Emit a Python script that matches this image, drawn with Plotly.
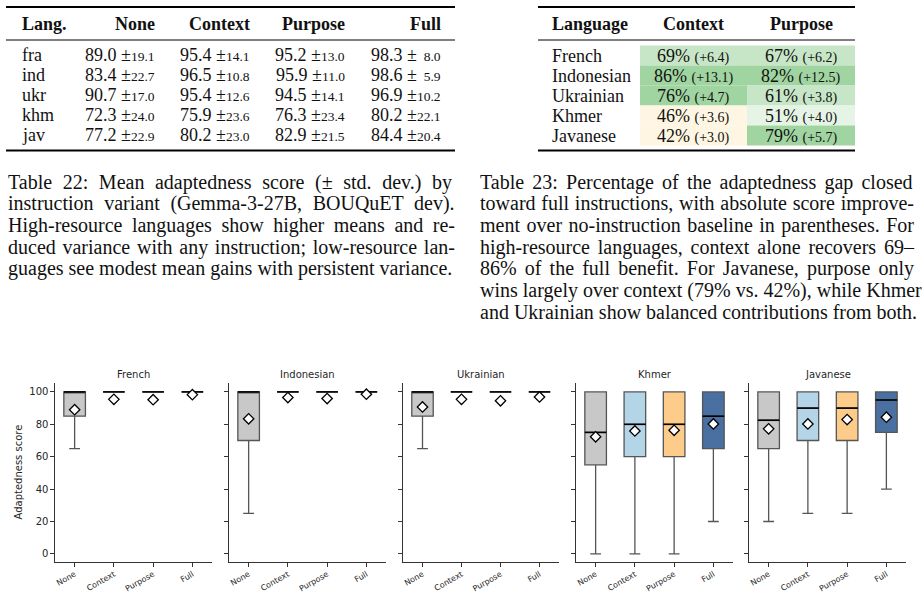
import plotly.graph_objects as go

W, H = 924, 595

# ---------------- data ----------------
variants = ["None", "Context", "Purpose", "Full"]

langs22 = ["fra", "ind", "ukr", "khm", "jav"]
mean_none = [89.0, 83.4, 90.7, 72.3, 77.2]
sd_none = [19.1, 22.7, 17.0, 24.0, 22.9]
mean_context = [95.4, 96.5, 95.4, 75.9, 80.2]
sd_context = [14.1, 10.8, 12.6, 23.6, 23.0]
mean_purpose = [95.2, 95.9, 94.5, 76.3, 82.9]
sd_purpose = [13.0, 11.0, 14.1, 23.4, 21.5]
mean_full = [98.3, 98.6, 96.9, 80.2, 84.4]
sd_full = [8.0, 5.9, 10.2, 22.1, 20.4]

langs23 = ["French", "Indonesian", "Ukrainian", "Khmer", "Javanese"]
gap_context = [69, 86, 76, 46, 42]
gain_context = [6.4, 13.1, 4.7, 3.6, 3.0]
gap_purpose = [67, 82, 61, 51, 79]
gain_purpose = [6.2, 12.5, 3.8, 4.0, 5.7]

# box statistics per language: entries = None, Context, Purpose, Full
box_q1 = {
    "French": [85, 100, 100, 100], "Indonesian": [70, 100, 100, 100],
    "Ukrainian": [85, 100, 100, 100], "Khmer": [55, 60, 60, 65],
    "Javanese": [65, 70, 70, 75],
}
box_median = {
    "French": [100, 100, 100, 100], "Indonesian": [100, 100, 100, 100],
    "Ukrainian": [100, 100, 100, 100], "Khmer": [75, 80, 80, 85],
    "Javanese": [82.5, 90, 90, 95],
}
box_q3 = {
    "French": [100, 100, 100, 100], "Indonesian": [100, 100, 100, 100],
    "Ukrainian": [100, 100, 100, 100], "Khmer": [100, 100, 100, 100],
    "Javanese": [100, 100, 100, 100],
}
box_low = {
    "French": [65, 100, 100, 100], "Indonesian": [25, 100, 100, 100],
    "Ukrainian": [65, 100, 100, 100], "Khmer": [0, 0, 0, 20],
    "Javanese": [20, 25, 25, 40],
}
box_high = {
    "French": [100, 100, 100, 100], "Indonesian": [100, 100, 100, 100],
    "Ukrainian": [100, 100, 100, 100], "Khmer": [100, 100, 100, 100],
    "Javanese": [100, 100, 100, 100],
}

caption22 = [
    "Table 22: Mean adaptedness score (\u00b1 std. dev.)  by",
    "instruction variant (Gemma-3-27B, BOUQuET dev).",
    "High-resource languages show higher means and re-",
    "duced variance with any instruction; low-resource lan-",
    "guages see modest mean gains with persistent variance.",
]
caption23 = [
    "Table 23: Percentage of the adaptedness gap closed",
    "toward full instructions, with absolute score improve-",
    "ment over no-instruction baseline in parentheses. For",
    "high-resource languages, context alone recovers 69\u2013",
    "86% of the full benefit.  For Javanese, purpose only",
    "wins largely over context (79% vs. 42%), while Khmer",
    "and Ukrainian show balanced contributions from both.",
]

# ---------------- styling helpers ----------------
SERIF = "Liberation Serif"
SANS = "DejaVu Sans"
box_fill = {"None": "#c8c8c8", "Context": "#b4d4e7", "Purpose": "#fdcc8a", "Full": "#4a6fa1"}

# Times glyph advance widths (per 1000 em) used to justify caption lines
_TW = {" ": 250, "(": 333, ")": 333, ",": 250, "-": 333, ".": 250, ":": 278, ";": 278,
       "%": 833, "\u00b1": 564, "\u2013": 500}
_TW.update({d: 500 for d in "0123456789"})
_TW.update(dict(zip("ABCDEFGHIJKLMNOPQRSTUVWXYZ",
                    [722, 667, 667, 722, 611, 556, 722, 722, 333, 389, 722, 611, 889,
                     722, 722, 556, 722, 667, 556, 611, 722, 722, 944, 722, 722, 611])))
_TW.update(dict(zip("abcdefghijklmnopqrstuvwxyz",
                    [444, 500, 444, 500, 444, 333, 500, 500, 278, 278, 500, 278, 778,
                     500, 500, 500, 500, 333, 389, 278, 500, 500, 722, 500, 500, 444])))


def X(px):
    return px / W


def Y(py):
    return 1 - py / H


def cell_color(p):
    if p < 50:
        return "#fef6e2"
    if p < 60:
        return "#e6f4e6"
    if p < 75:
        return "#c7e6c7"
    return "#a0d4a0"


fig = go.Figure()
annotations = []
shapes = []


def text(x, y, s, size=18, anchor="left", family=SERIF, color="#111", angle=0):
    annotations.append(dict(
        x=X(x), y=Y(y), xref="paper", yref="paper", text=s, showarrow=False,
        xanchor=anchor, yanchor="middle", textangle=angle,
        font=dict(family=family, size=size, color=color),
    ))


def hline(x0, x1, y, w):
    shapes.append(dict(type="line", xref="paper", yref="paper",
                       x0=X(x0), x1=X(x1), y0=Y(y), y1=Y(y),
                       line=dict(color="#000", width=w)))


def paragraph(lines, left, right, top, size=20, lead=21.7):
    for k, line in enumerate(lines):
        s = " ".join(line.split())
        if k < len(lines) - 1:
            nat = sum(_TW.get(c, 500) for c in s) / 1000.0 * size
            ns = s.count(" ")
            ws = max(0.0, (right - left - nat) / ns) if ns else 0.0
            s = "<span style='word-spacing:%.2fpx'>%s</span>" % (ws, s)
        text(left, top + lead * k, s, size)


# ---------------- Table 22 ----------------
hline(6, 455, 7, 1.8)
hline(6, 455, 40, 1.0)
hline(6, 455, 150.5, 1.8)
text(20, 24, "<b>Lang.</b>", 18)
col_right = [157, 252, 347, 443]
for v, xr in zip(variants, col_right):
    text(xr, 24, "<b>%s</b>" % v, 18, anchor="right")

means = [mean_none, mean_context, mean_purpose, mean_full]
sds = [sd_none, sd_context, sd_purpose, sd_full]
for i, lg in enumerate(langs22):
    yy = 55 + 20 * i
    text(20, yy, lg, 18)
    for j in range(4):
        sd = sds[j][i]
        pad = "\u2007" if sd < 10 else ""
        s = "%.1f \u00b1<span style='font-size:13.5px'>%s%.1f</span>" % (means[j][i], pad, sd)
        text(col_right[j], yy, s, 18, anchor="right")

# ---------------- Table 23 ----------------
hline(538, 855, 7, 1.8)
hline(538, 855, 40, 1.0)
hline(538, 855, 150.5, 1.8)
text(550, 24, "<b>Language</b>", 18)
text(693.5, 24, "<b>Context</b>", 18, anchor="center")
text(801, 24, "<b>Purpose</b>", 18, anchor="center")
cells = [(640, 747, gap_context, gain_context), (747, 855, gap_purpose, gain_purpose)]
for i, lg in enumerate(langs23):
    y0 = 45.5 + 20 * i
    yy = 56 + 20 * i
    text(550, yy, lg, 18)
    for (x0, x1, gaps, gains) in cells:
        shapes.append(dict(type="rect", xref="paper", yref="paper", layer="below",
                           x0=X(x0), x1=X(x1), y0=Y(y0), y1=Y(y0 + 20),
                           line=dict(width=0), fillcolor=cell_color(gaps[i])))
        s = "%d%% <span style='font-size:14px'>(+%.1f)</span>" % (gaps[i], gains[i])
        text((x0 + x1) / 2, yy, s, 18, anchor="center")

# ---------------- captions ----------------
paragraph(caption22, 6, 453, 182)
paragraph(caption23, 478, 912, 182)

# ---------------- box plots ----------------
panel_x = [(55, 212), (229, 386), (403, 559), (576, 733), (749, 906)]
ytop, ybot = 383, 562
layout_axes = {}
BOXW = 0.55
for p, lang in enumerate(langs23):
    k = p + 1
    xa = "x" if k == 1 else "x%d" % k
    ya = "y" if k == 1 else "y%d" % k
    for j, v in enumerate(variants):
        fig.add_trace(go.Box(
            x=[j], q1=[box_q1[lang][j]], median=[box_median[lang][j]], q3=[box_q3[lang][j]],
            lowerfence=[box_low[lang][j]], upperfence=[box_high[lang][j]],
            width=BOXW, whiskerwidth=0.5, boxpoints=False,
            fillcolor=box_fill[v], line=dict(color="#555555", width=1.3),
            xaxis=xa, yaxis=ya, showlegend=False, hoverinfo="skip",
        ))
        med = box_median[lang][j]
        fig.add_trace(go.Scatter(
            x=[j - BOXW / 2, j + BOXW / 2], y=[med, med], mode="lines",
            line=dict(color="#000", width=1.6), xaxis=xa, yaxis=ya,
            showlegend=False, hoverinfo="skip",
        ))
    fig.add_trace(go.Scatter(
        x=list(range(4)), y=[m[p] for m in means], mode="markers",
        marker=dict(symbol="diamond", size=8, color="white",
                    line=dict(color="#000", width=1.3)),
        xaxis=xa, yaxis=ya, showlegend=False, hoverinfo="skip",
    ))
    x0, x1 = panel_x[p]
    axcommon = dict(showline=True, linecolor="#333", linewidth=1.2, ticks="outside",
                    ticklen=3.5, tickwidth=1.1, tickcolor="#333", showgrid=False,
                    zeroline=False)
    layout_axes["xaxis" if k == 1 else "xaxis%d" % k] = dict(
        domain=[X(x0), X(x1)], range=[-0.5, 3.5], tickvals=list(range(4)),
        ticktext=variants, tickangle=-30, anchor=ya,
        tickfont=dict(family=SANS, size=8, color="#262626"), **axcommon)
    layout_axes["yaxis" if k == 1 else "yaxis%d" % k] = dict(
        domain=[Y(ybot), Y(ytop)], range=[-5, 105.5], tickvals=[0, 20, 40, 60, 80, 100],
        showticklabels=(k == 1), anchor=xa,
        tickfont=dict(family=SANS, size=10, color="#262626"), **axcommon)
    text((x0 + x1) / 2, 374, lang, 10, anchor="center", family=SANS, color="#262626")

text(18, (ytop + ybot) / 2, "Adaptedness score", 10, anchor="center", family=SANS,
     color="#262626", angle=-90)

fig.update_layout(
    width=W, height=H, autosize=False, margin=dict(l=0, r=0, t=0, b=0),
    paper_bgcolor="white", plot_bgcolor="white",
    annotations=annotations, shapes=shapes, **layout_axes,
)
fig.write_html("out.html")
